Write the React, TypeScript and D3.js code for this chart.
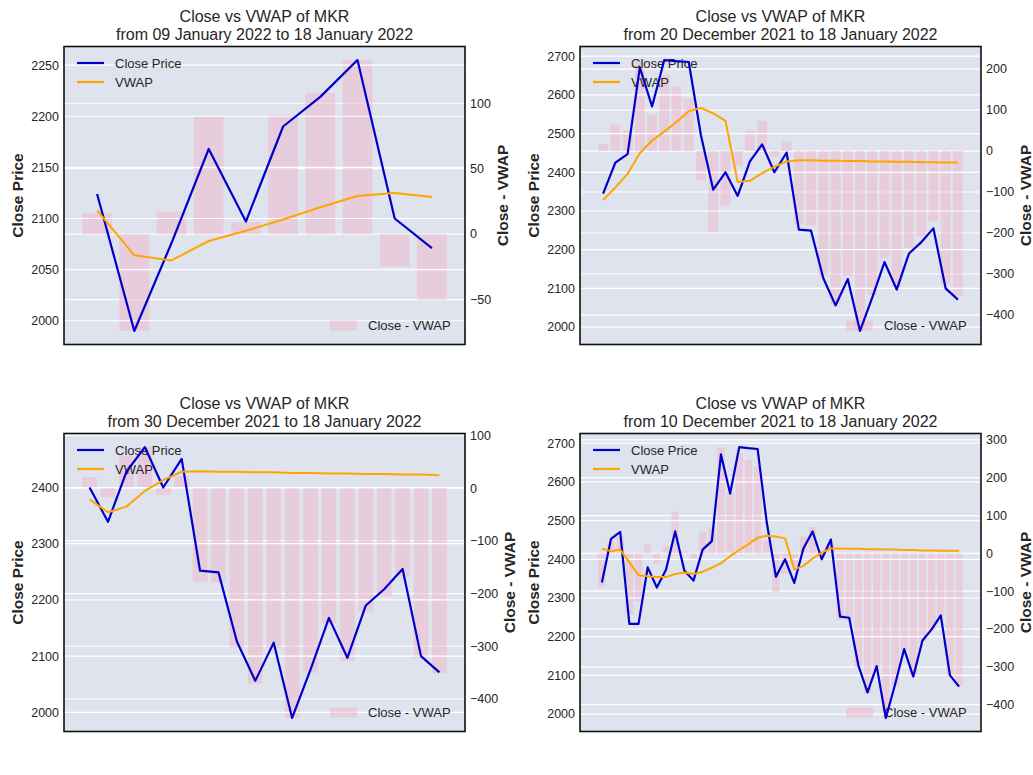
import * as d3 from "d3"

// MKR daily closes, 10 Dec 2021 .. 18 Jan 2022
const START = new Date(2021, 11, 10)
const DATES = d3.timeDay.range(START, d3.timeDay.offset(START, 40))

const CLOSE = [
  2340, 2453, 2471, 2233, 2233, 2379, 2327, 2373, 2472, 2371,
  2345, 2425, 2447, 2671, 2570, 2690, 2687, 2685, 2495, 2355,
  2400, 2339, 2428, 2472, 2400, 2451, 2252, 2249, 2126, 2056,
  2124, 1990, 2076, 2168, 2097, 2190, 2219, 2255, 2100, 2071,
]

// VWAP is cumulative from each window's first day, so every window has its own
const VWAP_10 = [2108, 2064, 2059, 2078, 2088, 2099, 2111, 2122, 2125, 2121]

const VWAP_30 = [
  2328, 2361, 2396, 2449, 2482, 2505, 2530, 2558, 2566, 2552,
  2533, 2375, 2378, 2398, 2414, 2428, 2431, 2431, 2430, 2430,
  2429, 2429, 2428, 2428, 2427, 2427, 2426, 2426, 2425, 2425,
]

const VWAP_20 = [
  2379, 2356, 2366, 2394, 2413, 2428, 2429, 2428, 2428, 2427,
  2427, 2426, 2426, 2425, 2425, 2424, 2424, 2423, 2423, 2422,
]

const VWAP_40 = [
  2427, 2421, 2425, 2392, 2359, 2356, 2354, 2354, 2362, 2366,
  2362, 2368, 2378, 2390, 2408, 2424, 2439, 2456, 2461, 2459,
  2454, 2374, 2383, 2402, 2417, 2428, 2428, 2427, 2427, 2426,
  2426, 2425, 2425, 2424, 2424, 2423, 2423, 2422, 2422, 2422,
]

const WINDOW_DAYS = [10, 30, 20, 40]
const WINDOW_VWAP = [VWAP_10, VWAP_30, VWAP_20, VWAP_40]

const FONT = "'Liberation Sans', Arial, Helvetica, sans-serif"
const BG = "#dfe3ee"
const TEXT = "#262626"
const fmt = d3.timeFormat("%d %B %Y")

const W = 401
const H = 298
const TICK_SIZE = 12.5

const tickText = (t: number) => (t < 0 ? `\u2212${-t}` : `${t}`)
// rough width of a tick label, used to push the right axis label out like matplotlib does
const tickWidth = (s: string) => s.length * 0.556 * TICK_SIZE + (s.startsWith("\u2212") ? 0.03 * TICK_SIZE : 0)

function Panel({ left, top, days, vwap }: { left: number; top: number; days: number; vwap: number[] }) {
  const close = CLOSE.slice(-days)
  const dates = DATES.slice(-days)
  const diff = close.map((c, i) => c - vwap[i])

  // matplotlib-like autoscale: data limits + 5% margins
  const xlo = -0.4
  const xhi = days - 1 + 0.4
  const xpad = (xhi - xlo) * 0.05
  const x = d3.scaleLinear().domain([xlo - xpad, xhi + xpad]).range([0, W])

  const pmin = d3.min([...close, ...vwap]) as number
  const pmax = d3.max([...close, ...vwap]) as number
  const ppad = (pmax - pmin) * 0.05
  const y1 = d3.scaleLinear().domain([pmin - ppad, pmax + ppad]).range([H, 0])

  const dmin = Math.min(0, d3.min(diff) as number)
  const dmax = Math.max(0, d3.max(diff) as number)
  const dpad = (dmax - dmin) * 0.05
  const y2 = d3.scaleLinear().domain([dmin - dpad, dmax + dpad]).range([H, 0])

  const t1 = y1.ticks(6)
  const t2 = y2.ticks(6)
  const line = d3.line<number>().x((_, i) => x(i)).y((v) => y1(v))
  const bw = x(0.8) - x(0)
  const rightLabelX = W + 5 + (d3.max(t2, (t) => tickWidth(tickText(t))) as number) + 11

  return (
    <g transform={`translate(${left},${top})`} fontFamily={FONT}>
      <text x={W / 2} y={-25} textAnchor="middle" fontSize={16} fill={TEXT}>Close vs VWAP of MKR</text>
      <text x={W / 2} y={-7} textAnchor="middle" fontSize={16} fill={TEXT}>
        {`from ${fmt(dates[0])} to ${fmt(dates[dates.length - 1])}`}
      </text>

      <rect x={0} y={0} width={W} height={H} fill={BG} />

      {t2.map((t) => (
        <line key={"g2" + t} x1={0} x2={W} y1={y2(t)} y2={y2(t)} stroke="#fff" strokeWidth={1.2} />
      ))}
      {diff.map((d, i) => (
        <rect
          key={"b" + i}
          x={x(i) - bw / 2}
          y={y2(Math.max(0, d))}
          width={bw}
          height={Math.abs(y2(d) - y2(0))}
          fill="#f0b8c8"
          opacity={0.5}
        />
      ))}

      {t1.map((t) => (
        <line key={"g1" + t} x1={0} x2={W} y1={y1(t)} y2={y1(t)} stroke="#fff" strokeWidth={1.2} />
      ))}

      <rect x={W - 135} y={H - 24} width={27} height={10} fill="#f0b8c8" opacity={0.5} />
      <text x={W - 97} y={H - 14.5} fontSize={13} fill={TEXT}>Close - VWAP</text>

      <line x1={13} x2={40} y1={16.5} y2={16.5} stroke="#0000cd" strokeWidth={2.2} />
      <text x={51} y={21} fontSize={13} fill={TEXT}>Close Price</text>
      <line x1={13} x2={40} y1={35.5} y2={35.5} stroke="#ffa500" strokeWidth={2.2} />
      <text x={51} y={40} fontSize={13} fill={TEXT}>VWAP</text>

      <path d={line(close) ?? ""} fill="none" stroke="#0000cd" strokeWidth={2.2} strokeLinejoin="round" />
      <path d={line(vwap) ?? ""} fill="none" stroke="#ffa500" strokeWidth={2} strokeLinejoin="round" />

      <rect x={0} y={0} width={W} height={H} fill="none" stroke="#111" strokeWidth={1.6} />

      {t1.map((t) => (
        <text key={"l" + t} x={-5} y={y1(t)} dy="0.35em" textAnchor="end" fontSize={TICK_SIZE} fill={TEXT}>
          {tickText(t)}
        </text>
      ))}
      {t2.map((t) => (
        <text key={"r" + t} x={W + 5} y={y2(t)} dy="0.35em" fontSize={TICK_SIZE} fill={TEXT}>
          {tickText(t)}
        </text>
      ))}

      <text
        transform={`translate(-46,${H / 2}) rotate(-90)`}
        textAnchor="middle"
        dy="0.35em"
        fontSize={15.5}
        fontWeight="bold"
        fill={TEXT}
      >
        Close Price
      </text>
      <text
        transform={`translate(${rightLabelX},${H / 2}) rotate(-90)`}
        textAnchor="middle"
        dy="0.35em"
        fontSize={15.5}
        fontWeight="bold"
        fill={TEXT}
      >
        Close - VWAP
      </text>
    </g>
  )
}

export default function App() {
  const lefts = [64, 580, 64, 580]
  const tops = [46.5, 46.5, 433.5, 433.5]
  return (
    <svg width={1033} height={775} style={{ position: "absolute", left: 0, top: 0, background: "#fff" }}>
      {WINDOW_DAYS.map((days, k) => (
        <Panel key={k} left={lefts[k]} top={tops[k]} days={days} vwap={WINDOW_VWAP[k]} />
      ))}
    </svg>
  )
}
